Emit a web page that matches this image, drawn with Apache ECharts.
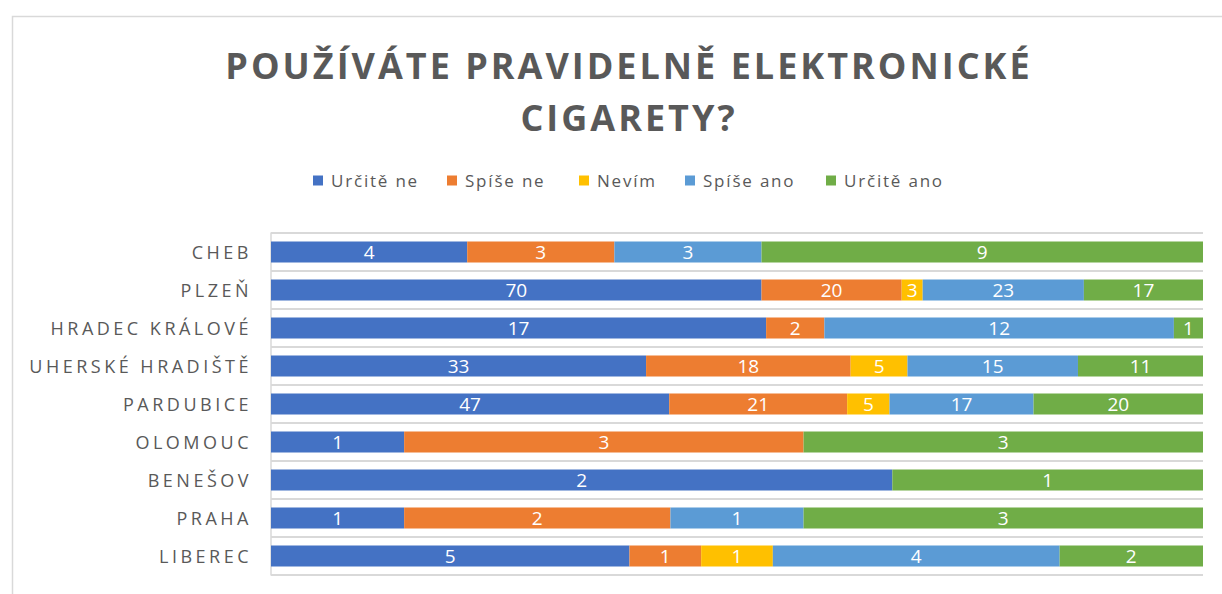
<!DOCTYPE html>
<html>
<head>
<meta charset="utf-8">
<script src="https://cdn.jsdelivr.net/npm/echarts@6/dist/echarts.min.js"></script>
<style>
html,body{margin:0;padding:0;background:#fff}
#c{width:1222px;height:594px}
#c text[style*="36px"]{letter-spacing:3px}
#c text[style*="18px"]{letter-spacing:3.5px}
#c text[style*="17px"]{letter-spacing:1.8px}
</style>
</head>
<body>
<div id="c"></div>
<script>
const categories = ['CHEB','PLZEŇ','HRADEC KRÁLOVÉ','UHERSKÉ HRADIŠTĚ','PARDUBICE','OLOMOUC','BENEŠOV','PRAHA','LIBEREC'];
const seriesNames = ['Určitě ne','Spíše ne','Nevím','Spíše ano','Určitě ano'];
const urciteNe  = [4, 70, 17, 33, 47, 1, 2, 1, 5];
const spiseNe   = [3, 20, 2, 18, 21, 3, 0, 2, 1];
const nevim     = [0, 3, 0, 5, 5, 0, 0, 0, 1];
const spiseAno  = [3, 23, 12, 15, 17, 0, 0, 1, 4];
const urciteAno = [9, 17, 1, 11, 20, 3, 1, 3, 2];
const colors = ['#4472C4','#ED7D31','#FFC000','#5B9BD5','#70AD47'];

const raw = [urciteNe, spiseNe, nevim, spiseAno, urciteAno];
const totals = categories.map((_, i) => raw.reduce((s, a) => s + a[i], 0));

const series = raw.map((arr, si) => ({
  name: seriesNames[si],
  type: 'bar',
  stack: 'total',
  barWidth: 21,
  itemStyle: { color: colors[si] },
  label: {
    show: true,
    position: 'inside',
    color: '#fff',
    fontSize: 19,
    fontFamily: 'Open Sans',
    formatter: p => { const v = arr[p.dataIndex]; return v ? String(v) : ''; }
  },
  data: arr.map((v, i) => v / totals[i] * 100)
}));

const legendLeft = [313, 447, 579, 685, 826];

const chart = echarts.init(document.getElementById('c'), null, { renderer: 'svg' });
chart.setOption({
  animation: false,
  color: colors,
  title: {
    text: 'POUŽÍVÁTE PRAVIDELNĚ ELEKTRONICKÉ\nCIGARETY?',
    left: 624,
    textAlign: 'center',
    top: 34,
    textStyle: { fontFamily: 'Open Sans', fontWeight: 'bold', fontSize: 36, lineHeight: 52, color: '#595959' }
  },
  graphic: [{
    type: 'rect', left: 10, top: 14, shape: { width: 1400, height: 800 },
    style: { fill: 'none', stroke: '#d9d9d9', lineWidth: 1.5 }, silent: true
  }],
  legend: seriesNames.map((n, i) => ({
    top: 172,
    left: legendLeft[i],
    padding: 0,
    itemWidth: 10,
    itemHeight: 10,
    itemGap: 8,
    icon: 'rect',
    textStyle: { fontFamily: 'Open Sans', fontSize: 17, color: '#595959', padding: [0, 0, 0, 3] },
    data: [n]
  })),
  grid: { left: 271, right: 19, top: 233, bottom: 19, containLabel: false },
  xAxis: {
    type: 'value', min: 0, max: 100, show: false
  },
  yAxis: {
    type: 'category',
    inverse: true,
    data: categories,
    axisLine: { show: true, lineStyle: { color: '#d9d9d9', width: 1.5 } },
    axisTick: { show: false },
    splitLine: { show: true, lineStyle: { color: '#d9d9d9', width: 2 } },
    axisLabel: { fontFamily: 'Open Sans', fontSize: 18, color: '#595959', margin: 19 }
  },
  series: series
});
</script>
</body>
</html>
